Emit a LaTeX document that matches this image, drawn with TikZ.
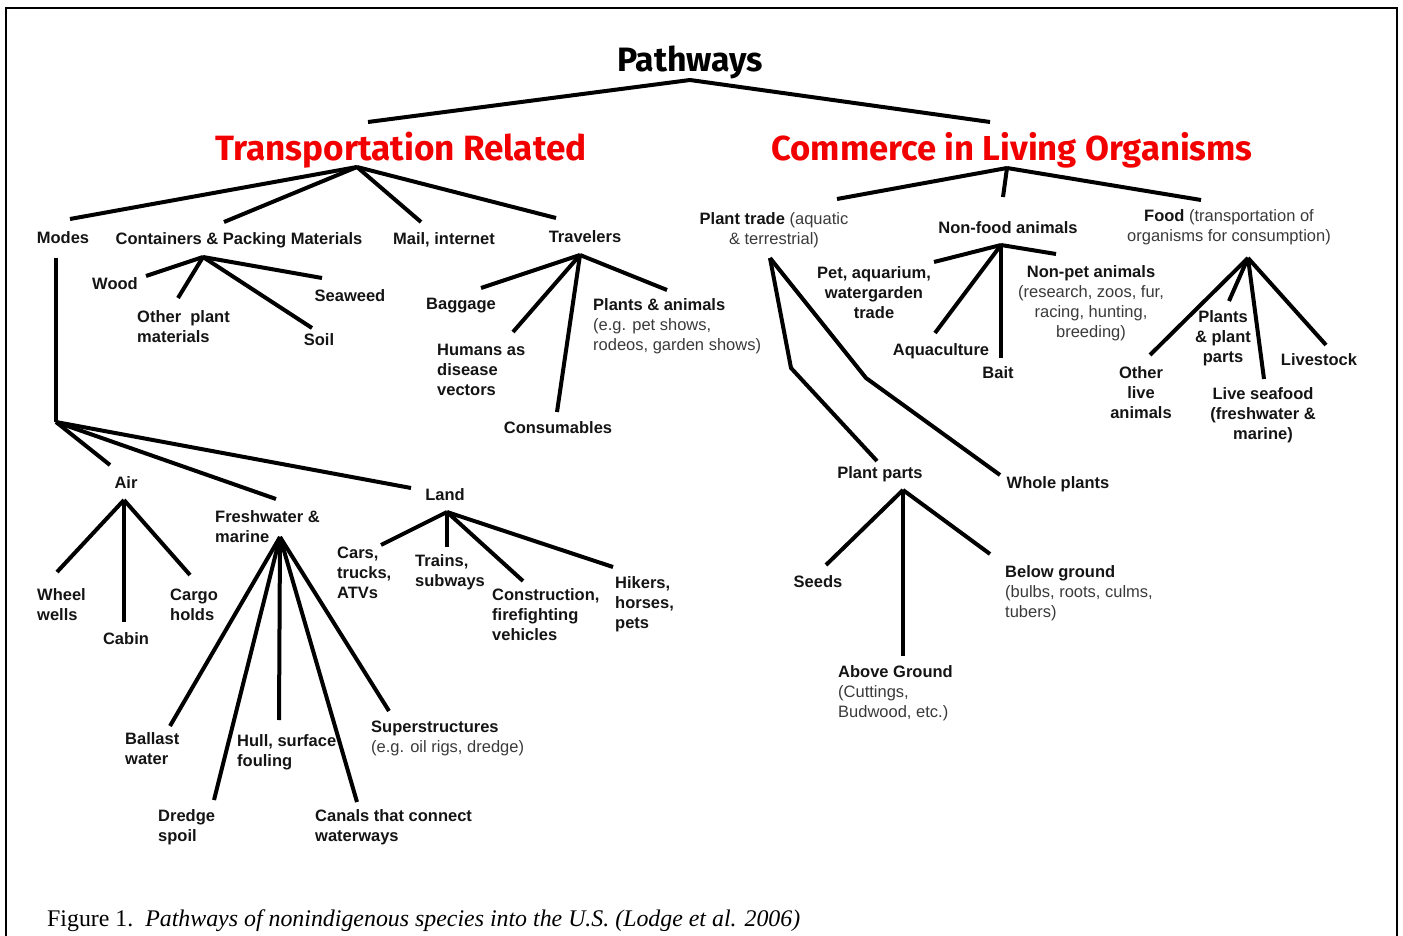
\documentclass[tikz,border=0pt]{standalone}
\usepackage{fontspec}
\usepackage{graphicx}
\setmainfont{Liberation Sans}
\newfontfamily\titlefont{Fira Sans}
\newfontfamily\capfont{Liberation Serif}
\definecolor{ink}{HTML}{141414}
\definecolor{notegray}{HTML}{3A3A3A}
\definecolor{titlered}{HTML}{F20000}
\newcommand{\nt}[1]{{\mdseries\color{notegray}#1}}
\tikzset{
  branch/.style={line width=4pt, line join=round, draw=black},
  lbl/.style={inner sep=0pt, font=\fontsize{16.5}{20}\selectfont\bfseries, text=ink},
  lblL/.style={lbl, anchor=west, align=left},
  lblC/.style={lbl, align=center},
  ttl/.style={inner sep=0pt},
}
\begin{document}
\begin{tikzpicture}[x=1pt, y=-1pt]
\useasboundingbox (0,0) rectangle (1403,936);
% frame, open at the bottom
\draw[line width=2.5pt] (6,936) -- (6,8) -- (1397,8) -- (1397,936);

% ---------- titles ----------
\node[ttl, text=black] (path) at (690,62) {\resizebox{146pt}{!}{\titlefont\bfseries Pathways}};
\node[ttl, text=titlered] (tr) at (401,150) {\resizebox{371pt}{!}{\titlefont\bfseries Transportation Related}};
\node[ttl, text=titlered] (colo) at (1012,150) {\resizebox{481pt}{!}{\titlefont\bfseries Commerce in Living Organisms}};

% ---------- transportation related ----------
\node[lbl] (modes) at (63,238) {Modes};
\node[lbl] (cont) at (239,240) {Containers \& Packing Materials};
\node[lbl] (mail) at (444,240) {Mail, internet};
\node[lbl] (trav) at (585,237) {Travelers};

\node[lbl] (wood) at (115,284) {Wood};
\node[lblL] (othp) at (137,327) {Other\ \ plant\\materials};
\node[lbl] (soil) at (319,340) {Soil};
\node[lbl] (seaweed) at (350,296) {Seaweed};

\node[lbl] (bag) at (461,306) {Baggage};
\node[lblL] (hum) at (437,370) {Humans as\\disease\\vectors};
\node[lbl] (consum) at (558,428) {Consumables};
\node[lblL] (plan) at (593,326) {Plants \& animals\\\nt{(e.g. pet shows,}\\\nt{rodeos, garden shows)}};

\node[lbl] (air) at (126,483) {Air};
\node[lblL] (fresh) at (215,527) {Freshwater \&\\marine};
\node[lbl] (land) at (445,495) {Land};

\node[lblL] (wheel) at (37,605) {Wheel\\wells};
\node[lbl] (cabin) at (126,639) {Cabin};
\node[lblL] (cargo) at (170,605) {Cargo\\holds};

\node[lblL] (ballast) at (125,749) {Ballast\\water};
\node[lblL] (dredge) at (158,827) {Dredge\\spoil};
\node[lblL] (hull) at (237,752) {Hull, surface\\fouling};
\node[lblL] (canals) at (315,827) {Canals that connect\\waterways};
\node[lblL] (super) at (371,738) {Superstructures\\\nt{(e.g. oil rigs, dredge)}};

\node[lblL] (cars) at (337,573) {Cars,\\trucks,\\ATVs};
\node[lblL] (trains) at (415,572) {Trains,\\subways};
\node[lblL] (constr) at (492,615) {Construction,\\firefighting\\vehicles};
\node[lblL] (hikers) at (615,604) {Hikers,\\horses,\\pets};

% ---------- commerce in living organisms ----------
\node[lblC] (plant) at (774,230) {Plant trade \nt{(aquatic}\\\nt{\& terrestrial)}};
\node[lbl] (nonfood) at (1008,228) {Non-food animals};
\node[lblC] (food) at (1229,227) {Food \nt{(transportation of}\\\nt{organisms for consumption)}};

\node[lblC] (pet) at (874,293) {Pet, aquarium,\\watergarden\\trade};
\node[lbl] (aqua) at (941,351) {Aquaculture};
\node[lbl] (bait) at (998,373) {Bait};
\node[lblC] (nonpet) at (1091,303) {Non-pet animals\\\nt{(research, zoos, fur,}\\\nt{racing, hunting,}\\\nt{breeding)}};

\node[lblC] (other) at (1141,393) {Other\\live\\animals};
\node[lblC] (plparts) at (1223,338) {Plants\\\& plant\\parts};
\node[lblC] (seafood) at (1263,415) {Live seafood\\(freshwater \&\\marine)};
\node[lbl] (livestock) at (1319,360) {Livestock};

\node[lbl] (pparts) at (880,474) {Plant parts};
\node[lbl] (whole) at (1058,484) {Whole plants};

\node[lbl] (seeds) at (818,582) {Seeds};
\node[lblL] (above) at (838,693) {Above Ground\\\nt{(Cuttings,}\\\nt{Budwood, etc.)}};
\node[lblL] (below) at (1005,593) {Below ground\\\nt{(bulbs, roots, culms,}\\\nt{tubers)}};

% ---------- junctions and branch ends ----------
\coordinate (jpath) at (690,80);
\coordinate (e-tr) at (368,122);
\coordinate (e-colo) at (990,122);

\coordinate (jtr) at (357,167);
\coordinate (e-modes) at (70,219);
\coordinate (e-cont) at (224,222);
\coordinate (e-mail) at (421,222);
\coordinate (e-trav) at (556,218);

\coordinate (jcont) at (203,257);
\coordinate (e-wood) at (146,276);
\coordinate (e-othp) at (178,298);
\coordinate (e-soil) at (312,328);
\coordinate (e-seaweed) at (322,278);

\coordinate (jtrav) at (580,255);
\coordinate (e-bag) at (481,288);
\coordinate (e-hum) at (513,332);
\coordinate (e-consum) at (557,412);
\coordinate (e-plan) at (667,290);

\coordinate (modes-top) at (56,258);
\coordinate (jmodes) at (56,422);
\coordinate (e-air) at (110,465);
\coordinate (e-fresh) at (276,499);
\coordinate (e-land) at (411,488);

\coordinate (jair) at (124,500);
\coordinate (e-wheel) at (57,572);
\coordinate (e-cabin) at (124,622);
\coordinate (e-cargo) at (190,575);

\coordinate (jfresh) at (280,537);
\coordinate (e-ballast) at (170,726);
\coordinate (e-dredge) at (214,800);
\coordinate (e-hull) at (279,720);
\coordinate (e-canals) at (357,802);
\coordinate (e-super) at (389,711);

\coordinate (jland) at (447,512);
\coordinate (e-cars) at (381,545);
\coordinate (e-trains) at (447,547);
\coordinate (e-constr) at (523,581);
\coordinate (e-hikers) at (613,567);

\coordinate (jcolo) at (1007,168);
\coordinate (e-plant) at (837,199);
\coordinate (e-nonfood) at (1003,197);
\coordinate (e-food) at (1201,200);

\coordinate (jplant) at (770,258);
\coordinate (bend-pp) at (791,368);
\coordinate (e-pparts) at (877,461);
\coordinate (bend-wh) at (866,378);
\coordinate (e-whole) at (1000,475);

\coordinate (jpp) at (903,490);
\coordinate (e-seeds) at (826,565);
\coordinate (e-above) at (903,656);
\coordinate (e-below) at (990,554);

\coordinate (jnf) at (1001,245);
\coordinate (e-pet) at (934,262);
\coordinate (e-aqua) at (935,333);
\coordinate (e-bait) at (1001,358);
\coordinate (e-nonpet) at (1056,254);

\coordinate (jfood) at (1248,258);
\coordinate (e-other) at (1150,355);
\coordinate (e-plparts) at (1229,301);
\coordinate (e-seafood) at (1264,379);
\coordinate (e-livestock) at (1326,345);

% ---------- branches ----------
\draw[branch] (e-tr) -- (jpath) -- (e-colo);

\foreach \e in {modes,cont,mail,trav} \draw[branch] (jtr) -- (e-\e);
\foreach \e in {wood,othp,soil,seaweed} \draw[branch] (jcont) -- (e-\e);
\foreach \e in {bag,hum,consum,plan} \draw[branch] (jtrav) -- (e-\e);
\draw[branch] (modes-top) -- (jmodes);
\foreach \e in {air,fresh,land} \draw[branch] (jmodes) -- (e-\e);
\foreach \e in {wheel,cabin,cargo} \draw[branch] (jair) -- (e-\e);
\foreach \e in {ballast,dredge,hull,canals,super} \draw[branch] (jfresh) -- (e-\e);
\foreach \e in {cars,trains,constr,hikers} \draw[branch] (jland) -- (e-\e);

\foreach \e in {plant,nonfood,food} \draw[branch] (jcolo) -- (e-\e);
\draw[branch] (jplant) -- (bend-pp) -- (e-pparts);
\draw[branch] (jplant) -- (bend-wh) -- (e-whole);
\foreach \e in {seeds,above,below} \draw[branch] (jpp) -- (e-\e);
\foreach \e in {pet,aqua,bait,nonpet} \draw[branch] (jnf) -- (e-\e);
\foreach \e in {other,plparts,seafood,livestock} \draw[branch] (jfood) -- (e-\e);

% ---------- caption ----------
\node[inner sep=0pt, anchor=base west] (caption) at (47,926)
  {\resizebox{753pt}{!}{\capfont Figure 1.\ \ \textit{Pathways of nonindigenous species into the U.S. (Lodge et al. 2006)}}};
\end{tikzpicture}
\end{document}
